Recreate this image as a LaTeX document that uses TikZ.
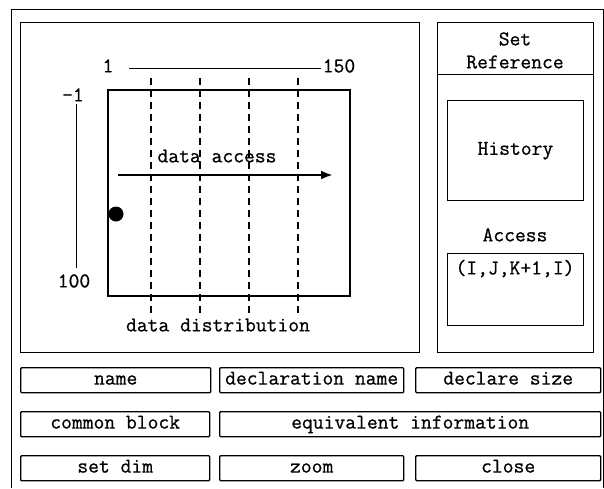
\documentclass[tikz,border=0pt]{standalone}
\usepackage{fontspec}
\setmonofont{Latin Modern Mono}[FakeBold=0.7]
\usetikzlibrary{arrows.meta}
\begin{document}
\begin{tikzpicture}[x=1pt,y=-1pt,
  every node/.style={font=\ttfamily\fontsize{21}{25}\selectfont, inner sep=0pt},
  txt/.style={text height=1.45ex, text depth=0.35ex, yshift=-2pt},
  panel/.style={draw, line width=0.9pt},
  btn/.style={draw, line width=1.4pt, rounded corners=1pt},
  thick box/.style={draw, line width=2pt},
  dashline/.style={line width=1.4pt, dash pattern=on 7pt off 5pt}]
\useasboundingbox (0,0) rectangle (604,488);
% outer frame
\draw[line width=1pt] (11,488) -- (11,9) -- (603,9) -- (603,488);
% main panel
\node[panel, minimum width=399pt, minimum height=330pt, anchor=north west] (main) at (20,22) {};
% right panel
\node[panel, minimum width=156pt, minimum height=330pt, anchor=north west] (side) at (437,22) {};
\draw[line width=0.9pt] (side.west |- 0,74) -- (side.east |- 0,74);
\node[txt] (set) at (515,41) {Set};
\node[txt] (refr) at (515,64) {Reference};
\node[panel, minimum width=136pt, minimum height=100pt, anchor=north west] (hist) at (447,100) {};
\node[txt] at (hist.center) {History};
\node[txt] (acc) at (515,237) {Access};
\node[panel, minimum width=136pt, minimum height=72pt, anchor=north west] (accbox) at (447,253) {};
\node[txt] (ijk) at (515,270) {(I,J,K+1,I)};
% matrix
\node[thick box, minimum width=242pt, minimum height=206pt, anchor=north west] (mat) at (107,89) {};
\foreach \xx/\nm in {151/d1,200/d2,249/d3,298/d4}{
  \coordinate (\nm t) at (\xx,78);
  \coordinate (\nm b) at (\xx,318);
  \draw[dashline] (\nm t) -- (\nm b);
}
% top axis
\node[txt] (one) at (108,68) {1};
\node[txt] (n150) at (339,68) {150};
\coordinate (ta) at (129,68);
\coordinate (tb) at (321,68);
\draw[line width=1pt] (ta) -- (tb);
% left axis
\node[txt] (m1) at (73,97) {-1};
\node[txt] (n100) at (74,283) {100};
\coordinate (la) at (76,104);
\coordinate (lb) at (76,268);
\draw[line width=1pt] (la) -- (lb);
% dot
\fill (116,214) circle (7.5pt);
% data access arrow
\coordinate (aa) at (118,175);
\coordinate (ab) at (333,175);
\draw[line width=2.4pt, -{Latex[length=12pt,width=9pt]}] (aa) -- (ab);
\node[txt] (da) at (217,158) {data access};
\node[txt] (dd) at (218,327) {data distribution};
% buttons
\node[btn, minimum width=190pt, minimum height=25pt, anchor=north west] (b1) at (20,367) {};
\node[txt] at (b1.center) {name};
\node[btn, minimum width=184pt, minimum height=25pt, anchor=north west] (b2) at (219,367) {};
\node[txt] at (b2.center) {declaration name};
\node[btn, minimum width=185pt, minimum height=25pt, anchor=north west] (b3) at (415,367) {};
\node[txt] at (b3.center) {declare size};
\node[btn, minimum width=189pt, minimum height=25pt, anchor=north west] (b4) at (20,411) {};
\node[txt] at (b4.center) {common block};
\node[btn, minimum width=381pt, minimum height=25pt, anchor=north west] (b5) at (219,411) {};
\node[txt] at (b5.center) {equivalent information};
\node[btn, minimum width=189pt, minimum height=25pt, anchor=north west] (b6) at (20,455) {};
\node[txt] at (b6.center) {set dim};
\node[btn, minimum width=184pt, minimum height=25pt, anchor=north west] (b7) at (219,455) {};
\node[txt] at (b7.center) {zoom};
\node[btn, minimum width=185pt, minimum height=25pt, anchor=north west] (b8) at (415,455) {};
\node[txt] at (b8.center) {close};
\end{tikzpicture}
\end{document}
